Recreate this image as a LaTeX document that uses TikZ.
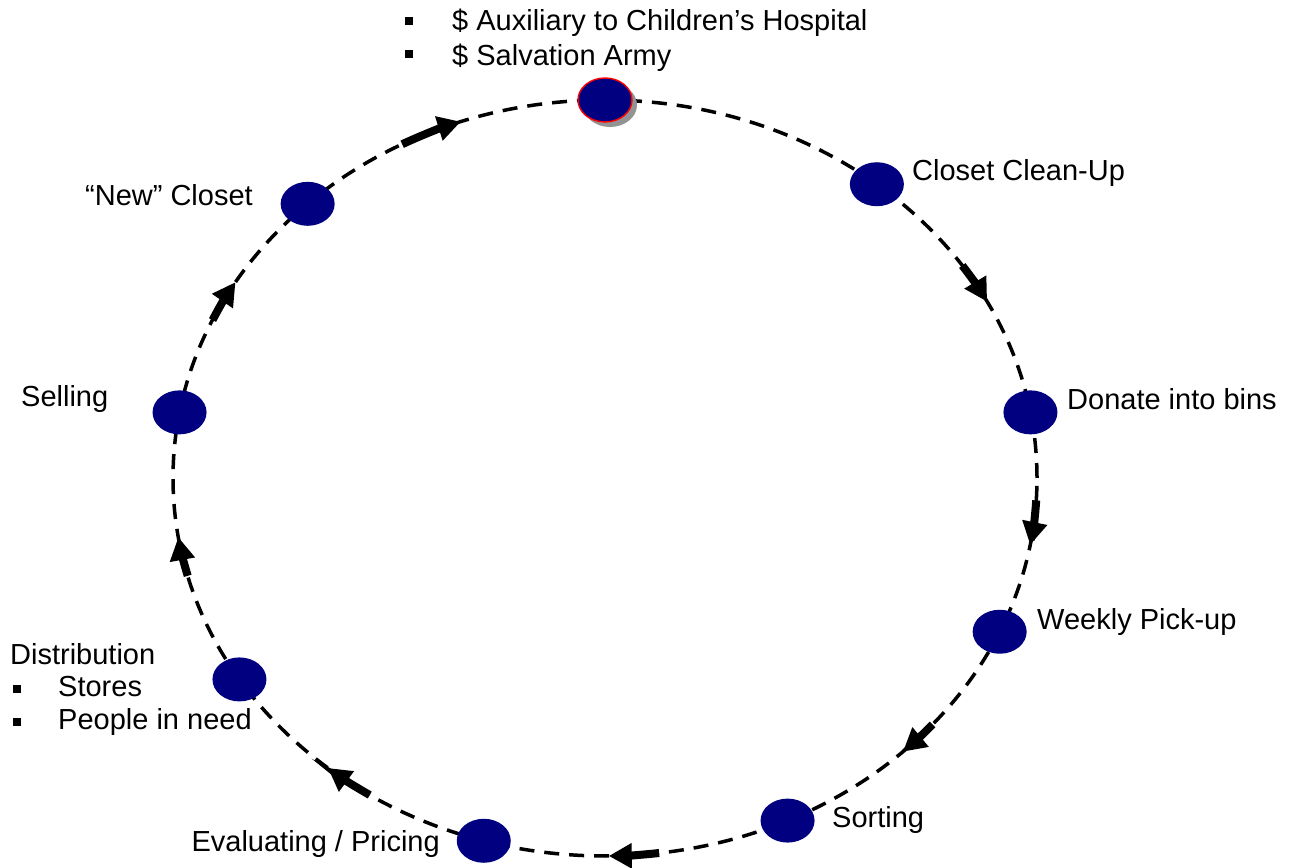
\documentclass[tikz,border=0pt]{standalone}
\usepackage{fontspec}
\setmainfont{Liberation Sans}
\usetikzlibrary{arrows.meta,shadows,shapes.geometric,calc}
\definecolor{navy}{RGB}{0,0,128}
\begin{document}
\begin{tikzpicture}[x=1pt,y=1pt,
  dot/.style={ellipse, fill=navy, minimum width=54pt, minimum height=44pt, inner sep=0pt},
  lbl/.style={font=\fontsize{29}{33}\selectfont, inner sep=0pt},
  flow/.style={line width=8pt, -{Triangle[length=23pt,width=24pt]}},
  ring/.style={line width=3.5pt, dash pattern=on 15pt off 10pt},
  bul/.style={rectangle, fill=black, minimum size=8.5pt, inner sep=0pt}
]
\useasboundingbox (0,0) rectangle (1295,867);
\coordinate (c) at (605,389);
\draw[ring] (c) ellipse [x radius=432, y radius=378];
% arrows along the ring
\foreach \a/\b in {118/109.5, 34.2/27.8, -3.4/-10.2, -40.7/-46.4, -82.8/-89.5, -123/-129.9, -165/-171, 155.3/148.8}{
  \draw[flow] ($(c)+(\a:432 and 378)$) arc[start angle=\a, end angle=\b, x radius=432, y radius=378];
}
% nodes
\node[dot, draw=red, line width=1.4pt, drop shadow={fill=gray!85, shadow xshift=5pt, shadow yshift=-5pt, opacity=1}] (top) at ($(c)+(90:432 and 378)$) {};
\node[dot] (clean) at ($(c)+(51:432 and 378)$) {};
\node[dot] (donate) at ($(c)+(10:432 and 378)$) {};
\node[dot] (weekly) at ($(c)+(-24:432 and 378)$) {};
\node[dot] (sort) at ($(c)+(-65:432 and 378)$) {};
\node[dot] (eval) at ($(c)+(-106.3:432 and 378)$) {};
\node[dot] (dist) at ($(c)+(-147.8:432 and 378)$) {};
\node[dot] (sell) at ($(c)+(170:432 and 378)$) {};
\node[dot] (new) at ($(c)+(133.5:432 and 378)$) {};
% labels
\node[lbl, anchor=base west] (tclean) at (912,686) {Closet Clean-Up};
\node[lbl, anchor=base west] (tdonate) at (1067,457) {Donate into bins};
\node[lbl, anchor=base west] (tweekly) at (1037,237) {Weekly Pick-up};
\node[lbl, anchor=base west] (tsort) at (832,39) {Sorting};
\node[lbl, anchor=base east] (teval) at (440,16) {Evaluating / Pricing};
\node[lbl, anchor=base west] (tsell) at (21,460) {Selling};
\node[lbl, anchor=base west] (tnew) at (85,661) {“New” Closet};
\node[lbl, anchor=base west] (tdist) at (10,202) {Distribution};
\node[bul] (b1) at (17,178) {};
\node[lbl, anchor=base west] (tstores) at (58,170) {Stores};
\node[bul] (b2) at (17,145) {};
\node[lbl, anchor=base west] (tpeople) at (58,137) {People in need};
\node[bul] (b3) at (409,846) {};
\node[lbl, anchor=base west] (taux) at (452,836) {\$ Auxiliary to Children’s Hospital};
\node[bul] (b4) at (409,813) {};
\node[lbl, anchor=base west] (tsalv) at (452,801) {\$ Salvation Army};
\end{tikzpicture}
\end{document}
